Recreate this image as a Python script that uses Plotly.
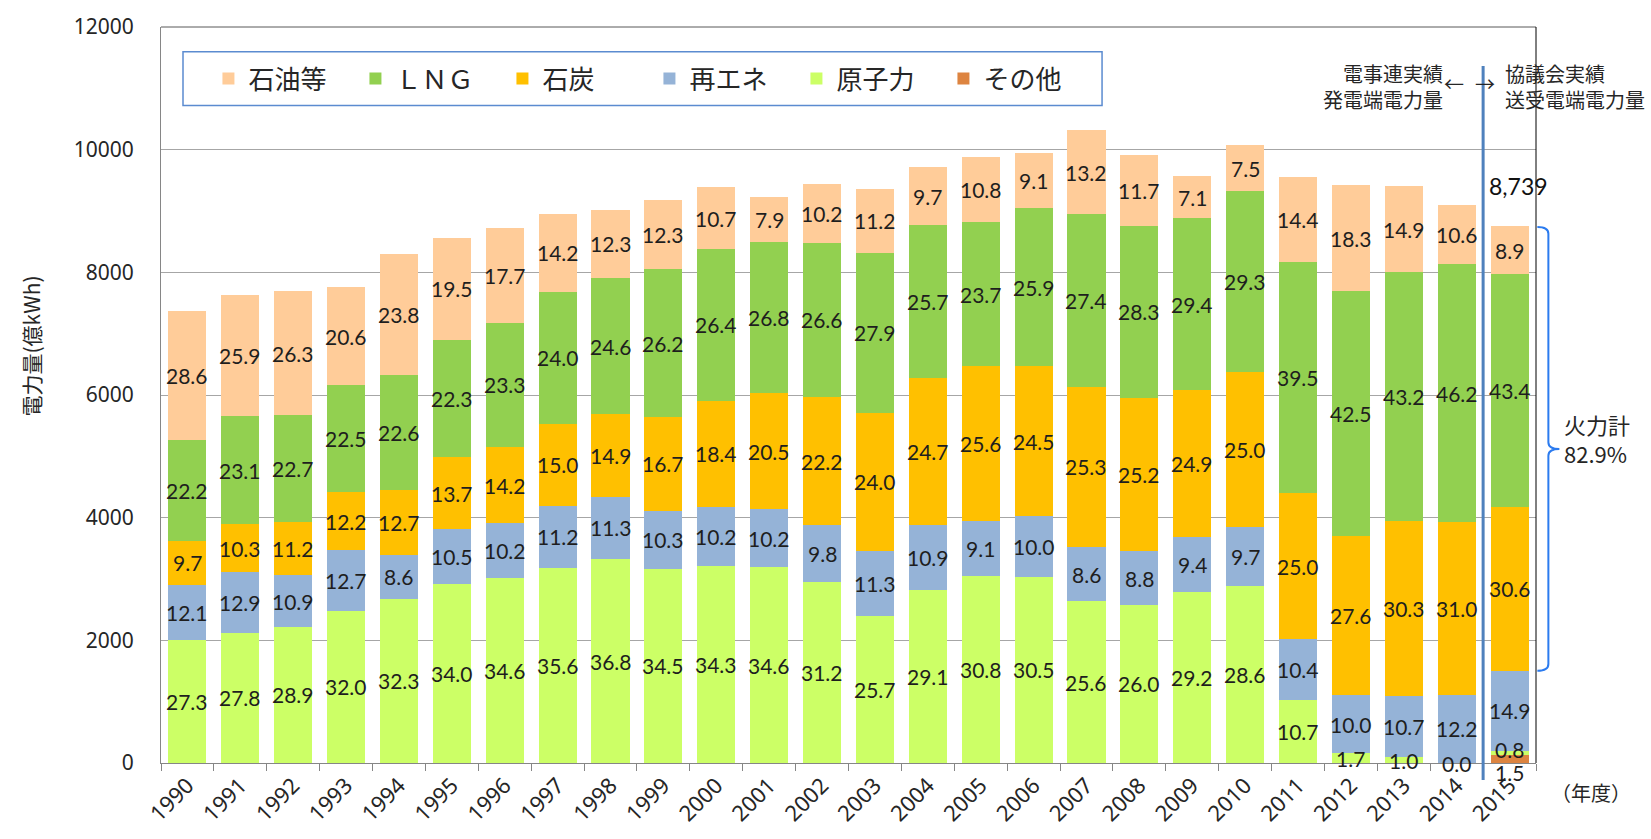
import plotly.graph_objects as go

# ---------------- data ----------------
years = ["1990", "1991", "1992", "1993", "1994", "1995", "1996", "1997", "1998", "1999",
         "2000", "2001", "2002", "2003", "2004", "2005", "2006", "2007", "2008", "2009",
         "2010", "2011", "2012", "2013", "2014", "2015"]

totals = [7376, 7634, 7689, 7758, 8301, 8565, 8726, 8952, 9027, 9177,
          9387, 9231, 9447, 9355, 9705, 9882, 9952, 10303, 9919, 9565,
          10064, 9550, 9408, 9397, 9097, 8739]

# shares (%) shown as labels
oil = [28.6, 25.9, 26.3, 20.6, 23.8, 19.5, 17.7, 14.2, 12.3, 12.3,
       10.7, 7.9, 10.2, 11.2, 9.7, 10.8, 9.1, 13.2, 11.7, 7.1,
       7.5, 14.4, 18.3, 14.9, 10.6, 8.9]
lng = [22.2, 23.1, 22.7, 22.5, 22.6, 22.3, 23.3, 24.0, 24.6, 26.2,
       26.4, 26.8, 26.6, 27.9, 25.7, 23.7, 25.9, 27.4, 28.3, 29.4,
       29.3, 39.5, 42.5, 43.2, 46.2, 43.4]
coal = [9.7, 10.3, 11.2, 12.2, 12.7, 13.7, 14.2, 15.0, 14.9, 16.7,
        18.4, 20.5, 22.2, 24.0, 24.7, 25.6, 24.5, 25.3, 25.2, 24.9,
        25.0, 25.0, 27.6, 30.3, 31.0, 30.6]
renew = [12.1, 12.9, 10.9, 12.7, 8.6, 10.5, 10.2, 11.2, 11.3, 10.3,
         10.2, 10.2, 9.8, 11.3, 10.9, 9.1, 10.0, 8.6, 8.8, 9.4,
         9.7, 10.4, 10.0, 10.7, 12.2, 14.9]
nuclear = [27.3, 27.8, 28.9, 32.0, 32.3, 34.0, 34.6, 35.6, 36.8, 34.5,
           34.3, 34.6, 31.2, 25.7, 29.1, 30.8, 30.5, 25.6, 26.0, 29.2,
           28.6, 10.7, 1.7, 1.0, 0.0, 0.8]
other = [None, None, None, None, None, None, None, None, None, None,
         None, None, None, None, None, None, None, None, None, None,
         None, None, None, None, None, 1.5]

thermal_total_label = "火力計<br>82.9%"
total_2015_label = "8,739"

# bottom -> top stacking order
series = [
    ("その他", other, "#DD8440"),
    ("原子力", nuclear, "#CCFF66"),
    ("再エネ", renew, "#95B3D7"),
    ("石炭", coal, "#FFC000"),
    ("ＬＮＧ", lng, "#92D050"),
    ("石油等", oil, "#FFCC99"),
]

LABEL_FONT = dict(family="Lato, Noto Sans", size=21, color="#1E1E1E")
CJK = "Noto Sans CJK JP"

fig = go.Figure()
cum = [0.0] * len(years)
annotations = []
label_shift = {("その他", "2015"): -14, ("原子力", "2015"): 3}

for name, shares, color in series:
    heights = [t * s / 100 if s is not None else None for t, s in zip(totals, shares)]
    fig.add_trace(go.Bar(x=years, y=heights, name=name, marker=dict(color=color, line=dict(width=0)),
                         hoverinfo="x+y+name"))
    for i, (h, s) in enumerate(zip(heights, shares)):
        if s is None:
            continue
        # category axis: annotation x given as category index
        annotations.append(dict(x=i, y=cum[i] + h / 2, xref="x", yref="y",
                                text=f"{s:.1f}", showarrow=False, font=LABEL_FONT,
                                yshift=label_shift.get((name, years[i]), 0)))
        cum[i] += h

last = len(years) - 1
# total label for 2015
annotations.append(dict(x=last, y=totals[-1], xref="x", yref="y", text=total_2015_label,
                        showarrow=False, font=dict(family="Lato, Noto Sans", size=23, color="#111"),
                        yshift=41, xshift=9))

# right-side texts
annotations += [
    dict(x=0.9338, y=0.9185, xref="paper", yref="paper", text="電事連実績<br>発電端電力量",
         showarrow=False, xanchor="right", yanchor="middle", align="right",
         font=dict(family=CJK, size=20, color="#262626")),
    dict(x=0.9490, y=0.946, xref="paper", yref="paper", text="←", showarrow=False,
         font=dict(family=CJK, size=20, color="#262626")),
    dict(x=0.9715, y=0.946, xref="paper", yref="paper", text="→", showarrow=False,
         font=dict(family=CJK, size=20, color="#262626")),
    dict(x=0.9760, y=0.9185, xref="paper", yref="paper", text="協議会実績<br>送受電端電力量",
         showarrow=False, xanchor="left", yanchor="middle", align="left",
         font=dict(family=CJK, size=20, color="#262626")),
    dict(x=1.0190, y=0.4407, xref="paper", yref="paper", text=thermal_total_label,
         showarrow=False, xanchor="left", yanchor="middle", align="left",
         font=dict(family=CJK, size=22, color="#262626")),
    dict(x=1.0400, y=-0.0404, xref="paper", yref="paper", text="（年度）",
         showarrow=False, xanchor="center", yanchor="middle",
         font=dict(family=CJK, size=20, color="#262626")),
    dict(x=-0.0945, y=0.566, xref="paper", yref="paper", text="電力量(億kWh)",
         showarrow=False, textangle=-90, xanchor="center", yanchor="middle",
         font=dict(family=CJK, size=21, color="#262626")),
]

# bracket around thermal share of 2015
br_top = totals[-1]
br_bot = cum[-1] - totals[-1] * (oil[-1] + lng[-1] + coal[-1]) / 100
br_mid = (br_top + br_bot) / 2
xl, xv, xt = 1.0010, 1.0090, 1.0170
r = 110
bracket = (f"M {xl},{br_top} Q {xv},{br_top} {xv},{br_top - r} "
           f"L {xv},{br_mid + r} Q {xv},{br_mid} {xt},{br_mid} "
           f"Q {xv},{br_mid} {xv},{br_mid - r} "
           f"L {xv},{br_bot + r} Q {xv},{br_bot} {xl},{br_bot}")

shapes = [
    # legend frame
    dict(type="rect", xref="paper", yref="paper", x0=0.016, x1=0.6844, y0=0.8935, y1=0.9663,
         line=dict(color="#5B8BD0", width=1.5), fillcolor="rgba(0,0,0,0)", layer="below"),
    # plot frame top / right
    dict(type="line", xref="paper", yref="paper", x0=0, x1=1, y0=1, y1=1,
         line=dict(color="#595959", width=1)),
    dict(type="line", xref="paper", yref="paper", x0=1, x1=1, y0=0, y1=1,
         line=dict(color="#000000", width=1)),
    # separator between 2014 and 2015
    dict(type="line", xref="x", yref="paper", x0=last - 0.5, x1=last - 0.5, y0=-0.023, y1=0.947,
         line=dict(color="#4F81BD", width=3)),
    # bracket
    dict(type="path", xref="paper", yref="y", path=bracket,
         line=dict(color="#2B7BEF", width=2)),
]

fig.update_layout(
    width=1651, height=839, autosize=False,
    margin=dict(l=161, r=115, t=26, b=71),
    barmode="stack", bargap=0.28,
    plot_bgcolor="white", paper_bgcolor="white",
    font=dict(family=CJK, color="#262626"),
    showlegend=True,
    legend=dict(orientation="h", x=0.0345, y=0.9299, xanchor="left", yanchor="middle",
                traceorder="reversed", entrywidth=102, entrywidthmode="pixels",
                bgcolor="rgba(0,0,0,0)", borderwidth=0,
                font=dict(family=CJK, size=26, color="#262626")),
    xaxis=dict(type="category", range=[-0.5, 25.5], tickangle=-45,
               tickfont=dict(family="Noto Sans", size=22, color="#262626"),
               ticks="outside", tickson="boundaries", ticklen=7, tickcolor="#868686",
               showline=True, linecolor="#868686", linewidth=1, showgrid=False),
    yaxis=dict(range=[0, 12000], dtick=2000, tickformat="d",
               tickfont=dict(family="Noto Sans", size=21, color="#262626"),
               showgrid=True, gridcolor="#A6A6A6", gridwidth=1,
               showline=True, linecolor="#868686", linewidth=1, zeroline=False,
               ticks="", ticklabelstandoff=22),
    annotations=annotations,
    shapes=shapes,
)

fig.write_html("out.html", config={"displayModeBar": False},
               post_script="document.body.style.margin='0px';")
